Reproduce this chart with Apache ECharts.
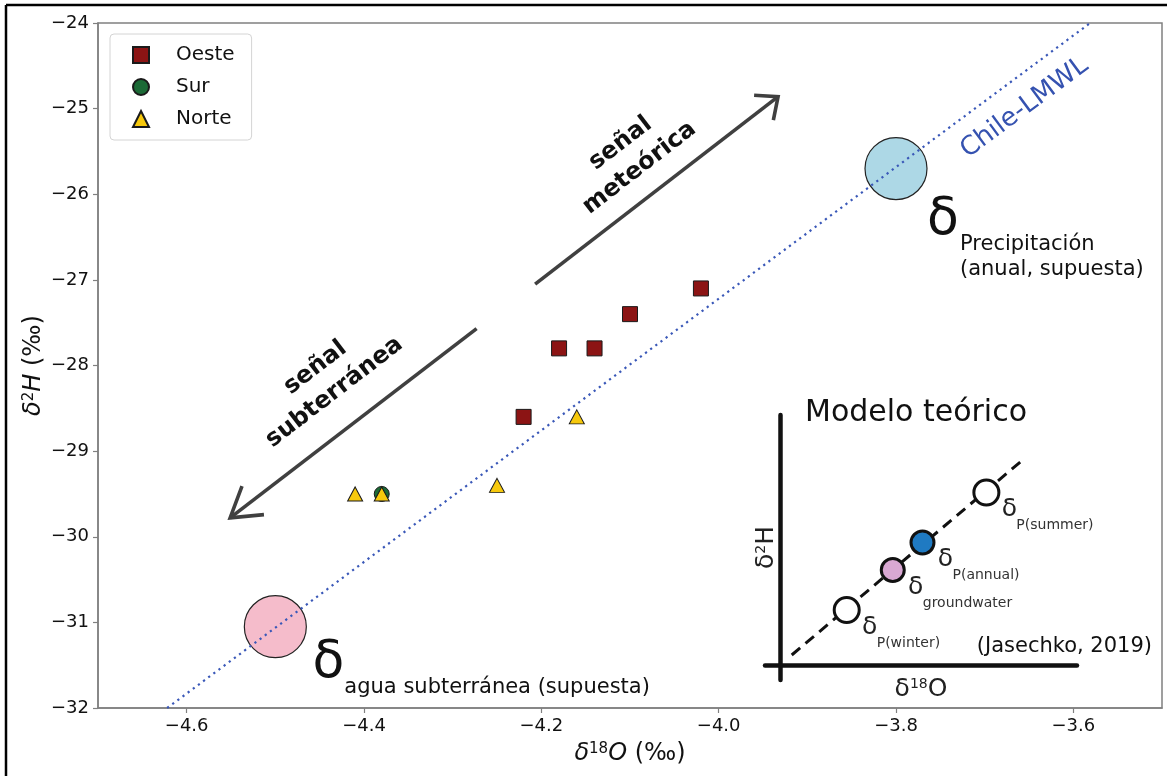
<!DOCTYPE html>
<html>
<head>
<meta charset="utf-8">
<script src="https://cdn.jsdelivr.net/npm/echarts@6/dist/echarts.min.js"></script>
<style>
  html, body { margin: 0; padding: 0; background: #fff; }
  #chart { width: 1167px; height: 776px; }
</style>
</head>
<body>
<div id="chart"></div>
<script>
// muestras: [δ18O, δ2H]
const oeste = [[-4.02, -27.1], [-4.10, -27.4], [-4.14, -27.8], [-4.18, -27.8], [-4.22, -28.6]]
const sur = [[-4.38, -29.5]]
const norte = [[-4.16, -28.6], [-4.25, -29.4], [-4.38, -29.5], [-4.41, -29.5]]
const precipitacion = [[-3.80, -25.7]]
const aguaSubterranea = [[-4.50, -31.05]]
const lmwl = [[-4.622, -32], [-3.581, -24]]
const xTicks = [-4.6, -4.4, -4.2, -4.0, -3.8, -3.6]

// modelo teórico (Jasechko, 2019), unidades relativas
const modeloLinea = [[0.04, 0.04], [0.825, 0.828]]
const modeloNombres = ['P(winter)', 'groundwater', 'P(annual)', 'P(summer)']
const modeloX = [0.225, 0.38, 0.48, 0.695]
const modeloY = [0.22, 0.38, 0.49, 0.69]
const modeloColores = ['#ffffff', '#d9a8d3', '#1f7ac2', '#ffffff']

// flechas de señal, en coordenadas de datos
const flechaMet = { desde: [-4.207, -27.05], hasta: [-3.933, -24.86] }
const flechaSub = { desde: [-4.273, -27.57], hasta: [-4.551, -29.78] }
const etiquetaMet = [-4.10, -25.55]
const etiquetaSub = [-4.444, -28.17]
const etiquetaLmwl = [-3.655, -24.99]

const FONT = '"DejaVu Sans", sans-serif'
const menos = (v, d) => (v < 0 ? '\u2212' : '') + Math.abs(v).toFixed(d)

var myChart = echarts.init(document.getElementById('chart'))

const nombreEje = {
  fontSize: 24, color: '#111', fontFamily: FONT,
  rich: {
    i: { fontStyle: 'italic', fontSize: 24, fontFamily: FONT, color: '#111' },
    s: { fontSize: 15, verticalAlign: 'top', fontFamily: FONT, color: '#111' },
  },
}
const nombreModelo = {
  color: '#222', fontFamily: FONT,
  rich: {
    a: { fontSize: 25, fontFamily: FONT, color: '#222' },
    b: { fontSize: 14, verticalAlign: 'top', fontFamily: FONT, color: '#222' },
  },
}

var option = {
  animation: false,
  backgroundColor: '#fff',
  textStyle: { fontFamily: FONT },
  legend: {
    orient: 'vertical',
    left: 110,
    top: 34,
    data: ['Oeste', 'Sur', 'Norte'],
    itemWidth: 16,
    itemHeight: 16,
    itemGap: 12,
    padding: [11, 17, 11, 22],
    backgroundColor: '#fff',
    borderColor: '#d4d4d4',
    borderWidth: 1,
    borderRadius: 4,
    textStyle: { fontSize: 20, color: '#111', fontFamily: FONT, padding: [0, 0, 0, 22] },
  },
  grid: [
    { left: 98, right: 5, top: 23, bottom: 68, show: true, borderColor: '#808080', borderWidth: 1.5, containLabel: false, outerBoundsMode: 'none' },
    { left: 765, top: 415, width: 312, height: 265, containLabel: false, outerBoundsMode: 'none' },
  ],
  xAxis: [
    {
      type: 'value',
      min: -4.7,
      max: -3.5,
      axisLine: { show: true, onZero: false, lineStyle: { color: '#808080', width: 1.5 } },
      axisTick: { show: true, length: 5, customValues: xTicks, lineStyle: { color: '#808080', width: 1.2 } },
      axisLabel: { customValues: xTicks, formatter: v => menos(v, 1), color: '#111', fontSize: 18, margin: 9, fontFamily: FONT },
      splitLine: { show: false },
      name: '{i|δ}{s|18}{i|O} (‰)',
      nameLocation: 'middle',
      nameGap: 34,
      nameTextStyle: nombreEje,
    },
    {
      type: 'value',
      gridIndex: 1,
      min: -0.05,
      max: 1,
      axisLine: { show: true, onZero: true, lineStyle: { color: '#111', width: 4.5 } },
      axisTick: { show: false },
      axisLabel: { show: false },
      splitLine: { show: false },
      name: '{a|δ}{b|18}{a|O}',
      nameLocation: 'middle',
      nameGap: -3,
      nameTextStyle: nombreModelo,
    },
  ],
  yAxis: [
    {
      type: 'value',
      min: -32,
      max: -24,
      interval: 1,
      axisLine: { show: true, onZero: false, lineStyle: { color: '#808080', width: 1.5 } },
      axisTick: { show: true, length: 5, lineStyle: { color: '#808080', width: 1.2 } },
      axisLabel: { formatter: v => menos(v, 0), color: '#111', fontSize: 18, margin: 9, fontFamily: FONT },
      splitLine: { show: false },
      name: '{i|δ}{s|2}{i|H} (‰)',
      nameLocation: 'middle',
      nameGap: 52,
      nameMoveOverlap: false,
      nameTextStyle: nombreEje,
    },
    {
      type: 'value',
      gridIndex: 1,
      min: -0.06,
      max: 1,
      axisLine: { show: true, onZero: true, lineStyle: { color: '#111', width: 4.5 } },
      axisTick: { show: false },
      axisLabel: { show: false },
      splitLine: { show: false },
      name: '{a|δ}{b|2}{a|H}',
      nameLocation: 'middle',
      nameGap: -14,
      nameTextStyle: nombreModelo,
    },
  ],
  series: [
    // valores supuestos (círculos grandes)
    {
      type: 'scatter', name: 'Precipitación', data: precipitacion, symbolSize: 62, z: 1,
      itemStyle: { color: '#add8e6', borderColor: '#222', borderWidth: 1.2, opacity: 1 },
    },
    {
      type: 'scatter', name: 'Agua subterránea', data: aguaSubterranea, symbolSize: 62, z: 1,
      itemStyle: { color: '#f5bccb', borderColor: '#222', borderWidth: 1.2, opacity: 1 },
    },
    // Chile-LMWL
    {
      type: 'line', name: 'Chile-LMWL', data: lmwl, showSymbol: false, z: 3, silent: true,
      lineStyle: { color: '#3a58b8', width: 2.2, type: [2.2, 4.2] },
    },
    {
      type: 'scatter', name: 'Oeste', data: oeste, symbol: 'rect', symbolSize: 15, z: 5,
      itemStyle: { color: '#8c1414', borderColor: '#1a1a1a', borderWidth: 1, opacity: 1 },
    },
    {
      type: 'scatter', name: 'Sur', data: sur, symbol: 'circle', symbolSize: 15, z: 5,
      itemStyle: { color: '#1b6a36', borderColor: '#1a1a1a', borderWidth: 1, opacity: 1 },
    },
    {
      type: 'scatter', name: 'Norte', data: norte, symbol: 'triangle', symbolSize: [15, 14], z: 6,
      itemStyle: { color: '#f7c90c', borderColor: '#1a1a1a', borderWidth: 1, opacity: 1 },
    },
    // modelo teórico
    {
      type: 'line', xAxisIndex: 1, yAxisIndex: 1, data: modeloLinea, showSymbol: false, z: 2, silent: true,
      lineStyle: { color: '#111', width: 3, type: [11, 7] },
    },
    {
      type: 'scatter', xAxisIndex: 1, yAxisIndex: 1, z: 4,
      data: modeloX.map((x, i) => ({
        name: modeloNombres[i],
        value: [x, modeloY[i]],
        symbolSize: modeloColores[i] === '#ffffff' ? 25 : 23,
        itemStyle: { color: modeloColores[i] },
      })),
      itemStyle: { borderColor: '#111', borderWidth: 3, opacity: 1 },
    },
  ],
}

myChart.setOption(option)

// anotaciones ancladas a los ejes
function flecha(tramo, brazo, ang) {
  const a = myChart.convertToPixel({ gridIndex: 0 }, tramo.desde)
  const b = myChart.convertToPixel({ gridIndex: 0 }, tramo.hasta)
  const dx = a[0] - b[0], dy = a[1] - b[1]
  const len = Math.hypot(dx, dy)
  const ux = dx / len, uy = dy / len
  const t = ang * Math.PI / 180
  const rot = s => [b[0] + brazo * (ux * Math.cos(s) - uy * Math.sin(s)), b[1] + brazo * (ux * Math.sin(s) + uy * Math.cos(s))]
  const estilo = { stroke: '#404040', lineWidth: 3.6, fill: null, lineCap: 'butt', lineJoin: 'miter' }
  return [
    { type: 'polyline', shape: { points: [a, b] }, style: estilo, z: 10 },
    { type: 'polyline', shape: { points: [rot(t), b, rot(-t)] }, style: estilo, z: 10 },
  ]
}

function texto(x, y, txt, font, extra) {
  return {
    type: 'text', x: x, y: y, z: 20,
    style: Object.assign({ text: txt, font: font, fill: '#111', align: 'left', verticalAlign: 'middle' }, extra || {}),
  }
}

function anotaciones() {
  const p = v => myChart.convertToPixel({ gridIndex: 0 }, v)
  const q = v => myChart.convertToPixel({ gridIndex: 1 }, v)
  let els = []
  // marco exterior
  els.push({ type: 'line', shape: { x1: 6, y1: 5, x2: 1167, y2: 5 }, style: { stroke: '#000', lineWidth: 2.5 } })
  els.push({ type: 'line', shape: { x1: 6, y1: 5, x2: 6, y2: 776 }, style: { stroke: '#000', lineWidth: 2.5 } })

  els = els.concat(flecha(flechaMet, 24, 41), flecha(flechaSub, 34, 32))

  const rMet = 37.6 * Math.PI / 180
  const m = p(etiquetaMet)
  els.push({ type: 'text', x: m[0], y: m[1], rotation: rMet, z: 20,
    style: { text: 'señal\nmeteórica', font: 'bold 24px ' + FONT, fill: '#111', align: 'center', verticalAlign: 'middle', lineHeight: 31 } })
  const s = p(etiquetaSub)
  els.push({ type: 'text', x: s[0], y: s[1], rotation: rMet, z: 20,
    style: { text: 'señal\nsubterránea', font: 'bold 24px ' + FONT, fill: '#111', align: 'center', verticalAlign: 'middle', lineHeight: 31 } })

  const l = p(etiquetaLmwl)
  els.push({ type: 'text', x: l[0], y: l[1], rotation: 36.5 * Math.PI / 180, z: 20,
    style: { text: 'Chile-LMWL', font: '26px ' + FONT, fill: '#3552b0', align: 'center', verticalAlign: 'middle' } })

  // δ precipitación
  const c1 = p(precipitacion[0])
  els.push(texto(c1[0] + 47, c1[1] + 52, 'δ', '52px ' + FONT, { align: 'center' }))
  els.push(texto(c1[0] + 64, c1[1] + 76, 'Precipitación', '21px ' + FONT))
  els.push(texto(c1[0] + 64, c1[1] + 101, '(anual, supuesta)', '21px ' + FONT))
  // δ agua subterránea
  const c2 = p(aguaSubterranea[0])
  els.push(texto(c2[0] + 53, c2[1] + 37, 'δ', '52px ' + FONT, { align: 'center' }))
  els.push(texto(c2[0] + 69, c2[1] + 61, 'agua subterránea (supuesta)', '21px ' + FONT))

  // modelo teórico
  els.push(texto(805, 413, 'Modelo teórico', '30px ' + FONT))
  els.push(texto(1152, 647, '(Jasechko, 2019)', '21px ' + FONT, { align: 'right' }))
  modeloX.forEach((x, i) => {
    const c = q([x, modeloY[i]])
    els.push(texto(c[0] + 23, c[1] + 17, 'δ', '25px ' + FONT, { align: 'center', fill: '#222' }))
    els.push(texto(c[0] + 30, c[1] + 33, modeloNombres[i], '14px ' + FONT, { fill: '#333' }))
  })

  myChart.setOption({ graphic: { elements: els } })
}

anotaciones()
</script>
</body>
</html>
